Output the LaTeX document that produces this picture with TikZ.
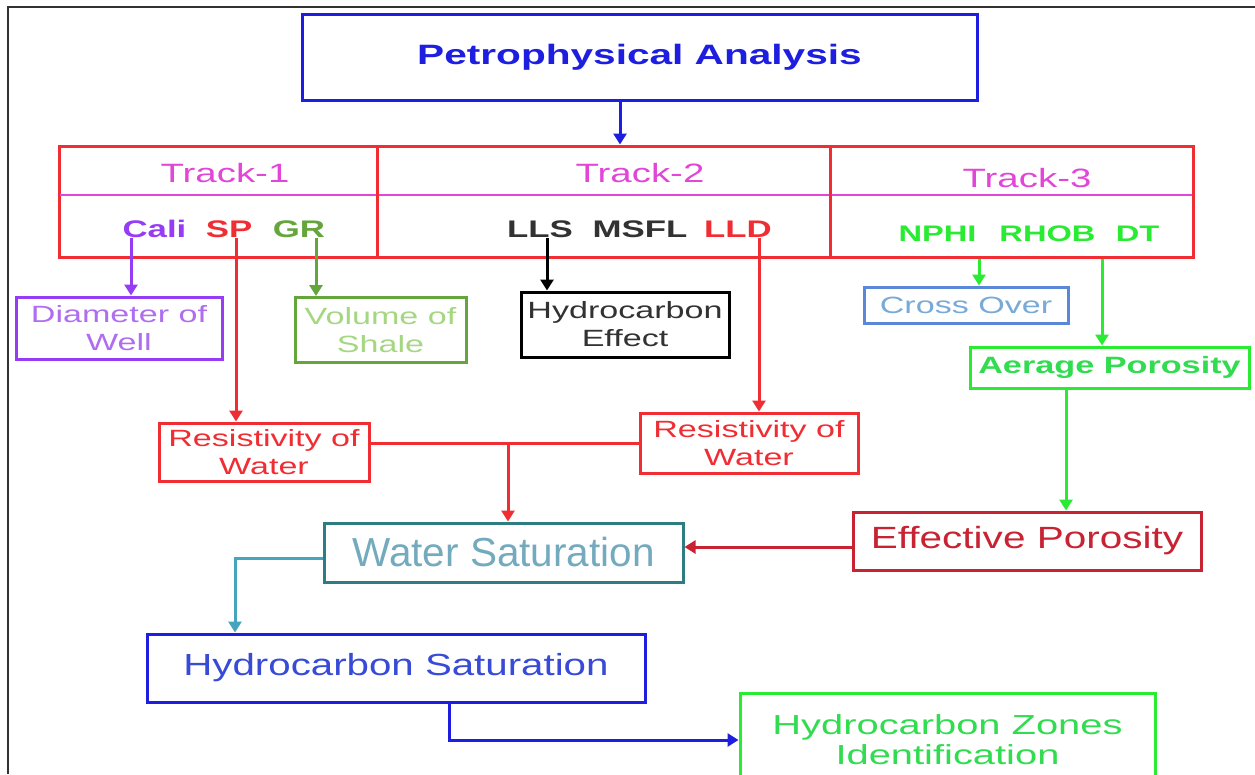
\documentclass[tikz,border=0pt]{standalone}
\usepackage{fontspec}
\setmainfont{Liberation Sans}
\newfontfamily\widefont{Liberation Sans}[FakeStretch=1.45]
\newfontfamily\midfont{Liberation Sans}[FakeStretch=1.32]
\usetikzlibrary{arrows.meta}

\definecolor{tblue}{RGB}{30,30,225}
\definecolor{tred}{RGB}{240,45,50}
\definecolor{tmag}{RGB}{225,70,215}
\definecolor{tpurple}{RGB}{150,60,245}
\definecolor{lpurple}{RGB}{175,110,240}
\definecolor{tolive}{RGB}{100,165,60}
\definecolor{lolive}{RGB}{165,215,130}
\definecolor{tgreen}{RGB}{40,235,50}
\definecolor{tgreentext}{RGB}{50,220,80}
\definecolor{tsky}{RGB}{90,135,215}
\definecolor{lsky}{RGB}{120,170,215}
\definecolor{tcrimson}{RGB}{200,35,50}
\definecolor{tteal}{RGB}{45,125,130}
\definecolor{tcyan}{RGB}{70,165,190}
\definecolor{swtext}{RGB}{115,170,190}
\definecolor{hstext}{RGB}{55,75,215}
\definecolor{dgray}{RGB}{50,50,50}

\begin{document}
\begin{tikzpicture}[
    x=1pt, y=-1pt,
    box/.style={
        draw,
        line width=3pt,
        align=center,
        inner sep=0pt
    },
    smallbox/.style={
        box,
        font=\widefont\fontsize{23.5}{28}\selectfont
    },
    trk/.style={
        anchor=base,
        text=tmag,
        font=\widefont\fontsize{26.5}{30}\selectfont
    },
    log/.style={
        anchor=base,
        inner sep=1pt,
        font=\widefont\bfseries\fontsize{24}{28}\selectfont
    },
    link/.style={
        line width=3pt,
        -{Triangle[length=11pt,width=13pt]}
    }
]

\useasboundingbox (0,0) rectangle (1255,774);
\clip (0,0) rectangle (1255,774);
\fill[white] (0,0) rectangle (1255,774);
\draw[line width=2pt, dgray] (8,774) -- (8,7) -- (1255,7);

\node[box, draw=tblue, text=tblue, minimum width=675pt, minimum height=86pt,
    font=\widefont\bfseries\fontsize{28}{34}\selectfont] (title) at (639.5,57)
{Petrophysical Analysis};

\node[box, draw=tred, minimum width=1134pt, minimum height=111pt] (tracks) at (626,201.5) {};
\draw[tmag, line width=2.5pt] (60,195) -- (1192,195);
\draw[tred, line width=3pt] (377,146) -- (377,257);
\draw[tred, line width=3pt] (830,146) -- (830,257);

\node[trk] (track1) at (225,182) {Track-1};
\node[trk] (track2) at (640,182) {Track-2};
\node[trk] (track3) at (1027,187) {Track-3};

\node[log, text=tpurple] (cali) at (154.5,237) {Cali};
\node[log, text=tred] (sp) at (229,237) {SP};
\node[log, text=tolive] (gr) at (299,237) {GR};
\node[log, text=dgray] (lls) at (540,237) {LLS};
\node[log, text=dgray] (msfl) at (640,237) {MSFL};
\node[log, text=tred] (lld) at (738,237) {LLD};
\node[log, text=tgreen, font=\widefont\bfseries\fontsize{22.5}{26}\selectfont] (nphi) at (937.5,241) {NPHI};
\node[log, text=tgreen, font=\widefont\bfseries\fontsize{22.5}{26}\selectfont] (rhob) at (1047.5,241) {RHOB};
\node[log, text=tgreen, font=\widefont\bfseries\fontsize{22.5}{26}\selectfont] (dt) at (1137.5,241) {DT};

\node[smallbox, draw=tpurple, text=lpurple, minimum width=206pt, minimum height=62pt] (diam) at (119,328)
{Diameter of\\Well};
\node[smallbox, draw=tolive, text=lolive, minimum width=171pt, minimum height=65pt] (vsh) at (380.5,330)
{Volume of\\Shale};
\node[smallbox, draw=black, text=dgray, minimum width=208pt, minimum height=65pt] (hceff) at (625,324.5)
{Hydrocarbon\\Effect};
\node[smallbox, draw=tred, text=tred, minimum width=210pt, minimum height=58pt] (resl) at (264,452)
{Resistivity of\\Water};
\node[smallbox, draw=tred, text=tred, minimum width=218pt, minimum height=60pt] (resr) at (749,443)
{Resistivity of\\Water};
\node[smallbox, draw=tsky, text=lsky, minimum width=204pt, minimum height=36pt] (cross) at (966,305)
{Cross Over};
\node[box, draw=tgreen, text=tgreentext, minimum width=279pt, minimum height=41pt,
    font=\widefont\bfseries\fontsize{23.6}{28}\selectfont] (avgphi) at (1109.5,367.5)
{Aerage Porosity};
\node[box, draw=tcrimson, text=tcrimson, minimum width=348pt, minimum height=58pt,
    font=\midfont\fontsize{30.7}{36}\selectfont] (effphi) at (1027,541)
{Effective Porosity};
\node[box, draw=tteal, text=swtext, minimum width=359pt, minimum height=59pt,
    font=\fontsize{40.5}{46}\selectfont] (sw) at (503.5,552.5)
{Water Saturation};
\node[box, draw=tblue, text=hstext, minimum width=498pt, minimum height=68pt,
    font=\midfont\fontsize{30.5}{36}\selectfont] (shc) at (396,668)
{Hydrocarbon Saturation};
\node[box, draw=tgreen, text=tgreentext, minimum width=415pt, minimum height=94pt,
    font=\widefont\fontsize{27.5}{30}\selectfont] (zones) at (947.5,740)
{Hydrocarbon Zones\\Identification};

\draw[link, tblue] ([xshift=-19.5pt]title.south) -- ([xshift=-19.5pt]title.south |- tracks.north);
\draw[link, tpurple] ([xshift=-23.5pt]cali.south) -- ([xshift=-23.5pt]cali.south |- diam.north);
\draw[link, tred] ([xshift=7pt]sp.south) -- ([xshift=7pt]sp.south |- resl.north);
\draw[link, tolive] ([xshift=17pt]gr.south) -- ([xshift=17pt]gr.south |- vsh.north);
\draw[link, black] ([xshift=7pt]lls.south) -- ([xshift=7pt]lls.south |- hceff.north);
\draw[link, tred] ([xshift=21pt]lld.south) -- ([xshift=21pt]lld.south |- resr.north);
\draw[link, tgreen] ([xshift=13pt]cross.north |- tracks.south) -- ([xshift=13pt]cross.north);
\draw[link, tgreen] ([xshift=-7.5pt]avgphi.north |- tracks.south) -- ([xshift=-7.5pt]avgphi.north);
\draw[link, tgreen] ([xshift=-43.5pt]avgphi.south) -- ([xshift=-43.5pt]avgphi.south |- effphi.north);
\draw[tred, line width=3pt] (resl.east |- resr.west) -- (resr.west);
\draw[link, tred] ([xshift=4.5pt]sw.north |- resr.west) -- ([xshift=4.5pt]sw.north);
\draw[link, tcrimson] ([yshift=-6pt]effphi.west) -- ([yshift=-6pt]effphi.west -| sw.east);
\draw[link, tcyan] ([yshift=-5.5pt]sw.west) -| ([xshift=-161pt]shc.north);
\draw[link, tblue] ([xshift=53pt]shc.south) |- (zones.west);

\end{tikzpicture}
\end{document}
